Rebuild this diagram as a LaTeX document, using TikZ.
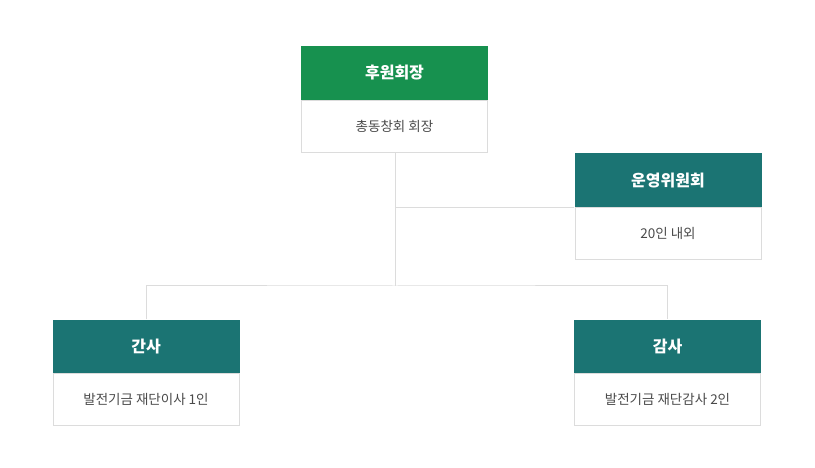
\documentclass[tikz,border=0pt]{standalone}
\usepackage{fontspec}
\setmainfont{Noto Sans CJK KR}
\usepackage{tikz}
\usetikzlibrary{positioning}
\definecolor{headgreen}{HTML}{17914F}
\definecolor{headteal}{HTML}{1B7473}
\definecolor{linegray}{HTML}{DCDCDC}
\definecolor{textgray}{HTML}{4A4A4A}

\begin{document}
\begin{tikzpicture}[x=1pt, y=-1pt,
    head/.style={minimum width=187pt, minimum height=54pt, inner sep=0pt,
        text=white, font=\fontsize{16}{19}\selectfont\bfseries},
    body/.style={draw=linegray, fill=white, line width=1pt, minimum width=186pt,
        minimum height=52pt, inner sep=0pt, text=textgray,
        font=\fontsize{13.5}{16}\selectfont},
    conn/.style={draw=linegray, line width=1pt}]
        \useasboundingbox (0, 0) rectangle (815, 468);
        % boxes
        \node [head, fill=headgreen] (patronhead) at (394.5, 73) {후원회장};
        \node [body, below=-0.5pt of patronhead] (patronbody) {총동창회 회장};
        \node [head, fill=headteal] (committeehead) at (668, 180.5) {운영위원회};
        \node [body, below=-0.5pt of committeehead] (committeebody) {20인 내외};
        \node [head, fill=headteal] (secretaryhead) at (146, 346.5) {간사};
        \node [body, below=-0.5pt of secretaryhead] (secretarybody) {발전기금 재단이사 1인};
        \node [head, fill=headteal] (auditorhead) at (667.5, 346.5) {감사};
        \node [body, below=-0.5pt of auditorhead] (auditorbody) {발전기금 재단감사 2인};
        % lines
        \coordinate (split) at (395, 286);
        \draw [conn] (patronbody.south -| split) -- (split);
        \draw [conn] (committeehead.south west) -- (committeehead.south west -| split);
        \draw [conn] (secretaryhead.north) |- (split) -| (auditorhead.north);
    \end{tikzpicture}
\end{document}
